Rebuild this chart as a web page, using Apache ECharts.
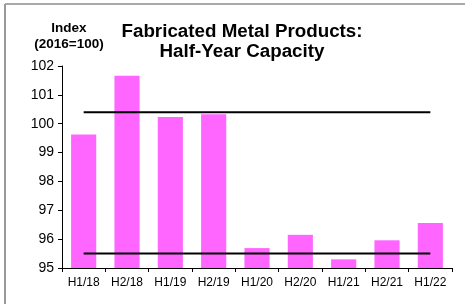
<!DOCTYPE html>
<html>
<head>
<meta charset="utf-8">
<script src="https://cdn.jsdelivr.net/npm/echarts@6/dist/echarts.min.js"></script>
<style>
  html, body { margin: 0; padding: 0; background: #fff; }
  #chart { width: 465px; height: 304px; }
</style>
</head>
<body>
<div id="chart"></div>
<script>
// data
const periods = ['H1/18', 'H2/18', 'H1/19', 'H2/19', 'H1/20', 'H2/20', 'H1/21', 'H2/21', 'H1/22'];
const capacity = [99.63, 101.66, 100.23, 100.33, 95.69, 96.15, 95.3, 95.96, 96.56];
const upperLevel = 100.4;
const lowerLevel = 95.5;

const font = 'Liberation Sans, Arial, sans-serif';
const chart = echarts.init(document.getElementById('chart'), null, { renderer: 'canvas' });

chart.setOption({
  animation: false,
  backgroundColor: '#fff',
  graphic: [
    // frame lines (top and left)
    { type: 'line', shape: { x1: 5, y1: 4, x2: 465, y2: 4 }, style: { stroke: '#555', lineWidth: 1 } },
    { type: 'line', shape: { x1: 5, y1: 4, x2: 5, y2: 304 }, style: { stroke: '#999', lineWidth: 2 } },
  ],
  title: [
    {
      text: 'Fabricated Metal Products:\nHalf-Year Capacity',
      left: 237,
      top: 17,
      textAlign: 'center',
      textStyle: { fontFamily: font, fontSize: 18.8, fontWeight: 'bold', color: '#000', lineHeight: 20 },
    },
    {
      text: 'Index\n(2016=100)',
      left: 64,
      top: 15,
      textAlign: 'center',
      textStyle: { fontFamily: font, fontSize: 13.5, fontWeight: 'bold', color: '#000', lineHeight: 16 },
    },
  ],
  grid: { left: 62, right: 13, top: 66, bottom: 36 },
  xAxis: {
    type: 'category',
    data: periods,
    axisLine: { lineStyle: { color: '#000', width: 1 } },
    axisTick: { show: true, length: 4, lineStyle: { color: '#000' } },
    axisLabel: { interval: 0, fontFamily: font, fontSize: 12, color: '#000', margin: 9 },
  },
  yAxis: {
    type: 'value',
    min: 95,
    max: 102,
    interval: 1,
    splitLine: { show: false },
    axisLine: { show: true, lineStyle: { color: '#000', width: 1 } },
    axisTick: { show: true, length: 4, lineStyle: { color: '#000' } },
    axisLabel: { fontFamily: font, fontSize: 14, color: '#000', margin: 8 },
  },
  series: [
    {
      type: 'bar',
      data: capacity,
      barCategoryGap: '42%',
      itemStyle: { color: '#ff66ff' },
    },
    {
      type: 'line',
      data: periods.map(() => upperLevel),
      symbol: 'none',
      lineStyle: { color: '#000', width: 2 },
    },
    {
      type: 'line',
      data: periods.map(() => lowerLevel),
      symbol: 'none',
      lineStyle: { color: '#000', width: 2 },
    },
  ],
});
</script>
</body>
</html>
